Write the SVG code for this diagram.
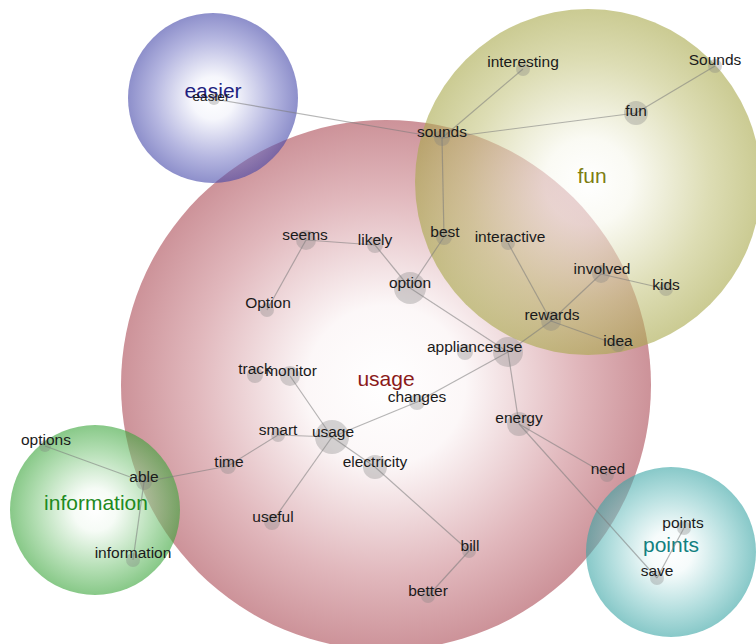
<svg xmlns="http://www.w3.org/2000/svg" width="756" height="644" viewBox="0 0 756 644">
<style>
.cl{fill-opacity:0.6}
.ed line{stroke:#7a7a7a;stroke-opacity:0.55;stroke-width:1.2}
.nd circle{fill:#808080;fill-opacity:0.33}
.nd text{font-family:"Liberation Sans",Arial,sans-serif;font-size:15.5px;fill:#1a1a1a;text-anchor:middle}
.cat{font-family:"Liberation Sans",Arial,sans-serif;font-size:21px;text-anchor:middle}
</style>
<defs>
<radialGradient id="gR"><stop offset="0" stop-color="#ffffff"/><stop offset="0.3" stop-color="#faf2f3"/><stop offset="0.72" stop-color="#cd8890"/><stop offset="1" stop-color="#ab4a55"/></radialGradient>
<radialGradient id="gB"><stop offset="0" stop-color="#ffffff"/><stop offset="0.25" stop-color="#f0f1fa"/><stop offset="0.7" stop-color="#8486cc"/><stop offset="1" stop-color="#4245a8"/></radialGradient>
<radialGradient id="gO"><stop offset="0" stop-color="#ffffff"/><stop offset="0.25" stop-color="#f7f7ec"/><stop offset="0.7" stop-color="#c6c682"/><stop offset="1" stop-color="#a8a84a"/></radialGradient>
<radialGradient id="gG"><stop offset="0" stop-color="#ffffff"/><stop offset="0.25" stop-color="#f0f9f0"/><stop offset="0.7" stop-color="#80c880"/><stop offset="1" stop-color="#38a438"/></radialGradient>
<radialGradient id="gT"><stop offset="0" stop-color="#ffffff"/><stop offset="0.25" stop-color="#f0f9f9"/><stop offset="0.7" stop-color="#80c8c8"/><stop offset="1" stop-color="#38a4a4"/></radialGradient>
</defs>
<rect width="756" height="644" fill="#ffffff"/>
<g id="clusters">
<circle id="c-usage" class="cl" cx="386" cy="385" r="265" fill="url(#gR)"/>
<circle id="c-easier" class="cl" cx="213" cy="98" r="85" fill="url(#gB)"/>
<circle id="c-fun" class="cl" cx="588" cy="182" r="173" fill="url(#gO)"/>
<circle id="c-information" class="cl" cx="95" cy="510" r="85" fill="url(#gG)"/>
<circle id="c-points" class="cl" cx="671" cy="552" r="85" fill="url(#gT)"/>
</g>
<g id="cluster-labels">
<text class="cat" x="213" y="98" fill="#1f1f80">easier</text>
<text class="cat" x="592" y="183" fill="#7d7d10">fun</text>
<text class="cat" x="386" y="386" fill="#8b1a1a">usage</text>
<text class="cat" x="96" y="510" fill="#1e8a1e">information</text>
<text class="cat" x="671" y="552" fill="#138080">points</text>
</g>
<g id="connectors" class="ed">
<line x1="214" y1="99" x2="442" y2="138"/>
<line x1="442" y1="138" x2="523" y2="69"/>
<line x1="442" y1="138" x2="636" y2="113"/>
<line x1="636" y1="113" x2="715" y2="66"/>
<line x1="442" y1="138" x2="444" y2="237"/>
<line x1="444" y1="237" x2="410" y2="288"/>
<line x1="375" y1="245" x2="410" y2="288"/>
<line x1="306" y1="240" x2="375" y2="245"/>
<line x1="306" y1="240" x2="267" y2="310"/>
<line x1="410" y1="288" x2="508" y2="352"/>
<line x1="508" y1="243" x2="551" y2="321"/>
<line x1="601" y1="274" x2="551" y2="321"/>
<line x1="601" y1="274" x2="666" y2="289"/>
<line x1="551" y1="321" x2="618" y2="345"/>
<line x1="551" y1="321" x2="508" y2="352"/>
<line x1="508" y1="352" x2="417" y2="402"/>
<line x1="417" y1="402" x2="332" y2="437"/>
<line x1="508" y1="352" x2="519" y2="424"/>
<line x1="519" y1="424" x2="607" y2="475"/>
<line x1="519" y1="424" x2="657" y2="578"/>
<line x1="657" y1="578" x2="684" y2="528"/>
<line x1="290" y1="376" x2="332" y2="437"/>
<line x1="278" y1="435" x2="332" y2="437"/>
<line x1="332" y1="437" x2="375" y2="467"/>
<line x1="332" y1="437" x2="272" y2="522"/>
<line x1="375" y1="467" x2="469" y2="551"/>
<line x1="469" y1="551" x2="428" y2="596"/>
<line x1="228" y1="466" x2="278" y2="435"/>
<line x1="144" y1="482" x2="228" y2="466"/>
<line x1="45" y1="446" x2="144" y2="482"/>
<line x1="144" y1="482" x2="133" y2="560"/>
</g>
<g class="nd">
<g id="n-easier"><circle cx="214" cy="99" r="6"/><text x="211" y="101" style="font-size:13.5px">easier</text></g>
<g id="n-sounds"><circle cx="442" cy="138" r="8"/><text x="442" y="137">sounds</text></g>
<g id="n-interesting"><circle cx="523" cy="69" r="7"/><text x="523" y="67">interesting</text></g>
<g id="n-Sounds"><circle cx="715" cy="66" r="7"/><text x="715" y="65">Sounds</text></g>
<g id="n-fun"><circle cx="636" cy="113" r="12"/><text x="636" y="116">fun</text></g>
<g id="n-seems"><circle cx="306" cy="240" r="10"/><text x="305" y="240">seems</text></g>
<g id="n-likely"><circle cx="375" cy="245" r="8"/><text x="375" y="245">likely</text></g>
<g id="n-Option"><circle cx="267" cy="310" r="7"/><text x="268" y="308">Option</text></g>
<g id="n-option"><circle cx="410" cy="288" r="16"/><text x="410" y="288">option</text></g>
<g id="n-best"><circle cx="444" cy="237" r="8"/><text x="445" y="237">best</text></g>
<g id="n-interactive"><circle cx="508" cy="243" r="7"/><text x="510" y="242">interactive</text></g>
<g id="n-involved"><circle cx="601" cy="274" r="9"/><text x="602" y="274">involved</text></g>
<g id="n-kids"><circle cx="666" cy="289" r="7"/><text x="666" y="290">kids</text></g>
<g id="n-rewards"><circle cx="551" cy="321" r="10"/><text x="552" y="320">rewards</text></g>
<g id="n-idea"><circle cx="618" cy="345" r="7"/><text x="618" y="346">idea</text></g>
<g id="n-appliances"><circle cx="465" cy="352" r="8"/><text x="464" y="352">appliances</text></g>
<g id="n-use"><circle cx="508" cy="352" r="15"/><text x="510" y="352">use</text></g>
<g id="n-track"><circle cx="255" cy="375" r="8"/><text x="255" y="374">track</text></g>
<g id="n-monitor"><circle cx="290" cy="376" r="10"/><text x="291" y="376">monitor</text></g>
<g id="n-changes"><circle cx="417" cy="402" r="8"/><text x="417" y="402">changes</text></g>
<g id="n-smart"><circle cx="278" cy="435" r="7"/><text x="278" y="435">smart</text></g>
<g id="n-usage"><circle cx="332" cy="437" r="17"/><text x="333" y="437">usage</text></g>
<g id="n-electricity"><circle cx="375" cy="467" r="12"/><text x="375" y="467">electricity</text></g>
<g id="n-time"><circle cx="228" cy="466" r="8"/><text x="229" y="467">time</text></g>
<g id="n-options"><circle cx="45" cy="446" r="6"/><text x="46" y="445">options</text></g>
<g id="n-able"><circle cx="144" cy="482" r="8"/><text x="144" y="482">able</text></g>
<g id="n-information"><circle cx="133" cy="560" r="7"/><text x="133" y="558">information</text></g>
<g id="n-useful"><circle cx="272" cy="522" r="8"/><text x="273" y="522">useful</text></g>
<g id="n-bill"><circle cx="469" cy="551" r="7"/><text x="470" y="551">bill</text></g>
<g id="n-better"><circle cx="428" cy="596" r="7"/><text x="428" y="596">better</text></g>
<g id="n-energy"><circle cx="519" cy="424" r="12"/><text x="519" y="423">energy</text></g>
<g id="n-need"><circle cx="607" cy="475" r="7"/><text x="608" y="474">need</text></g>
<g id="n-points"><circle cx="684" cy="528" r="7"/><text x="683" y="528">points</text></g>
<g id="n-save"><circle cx="657" cy="578" r="7"/><text x="657" y="576">save</text></g>
</g>
</svg>
